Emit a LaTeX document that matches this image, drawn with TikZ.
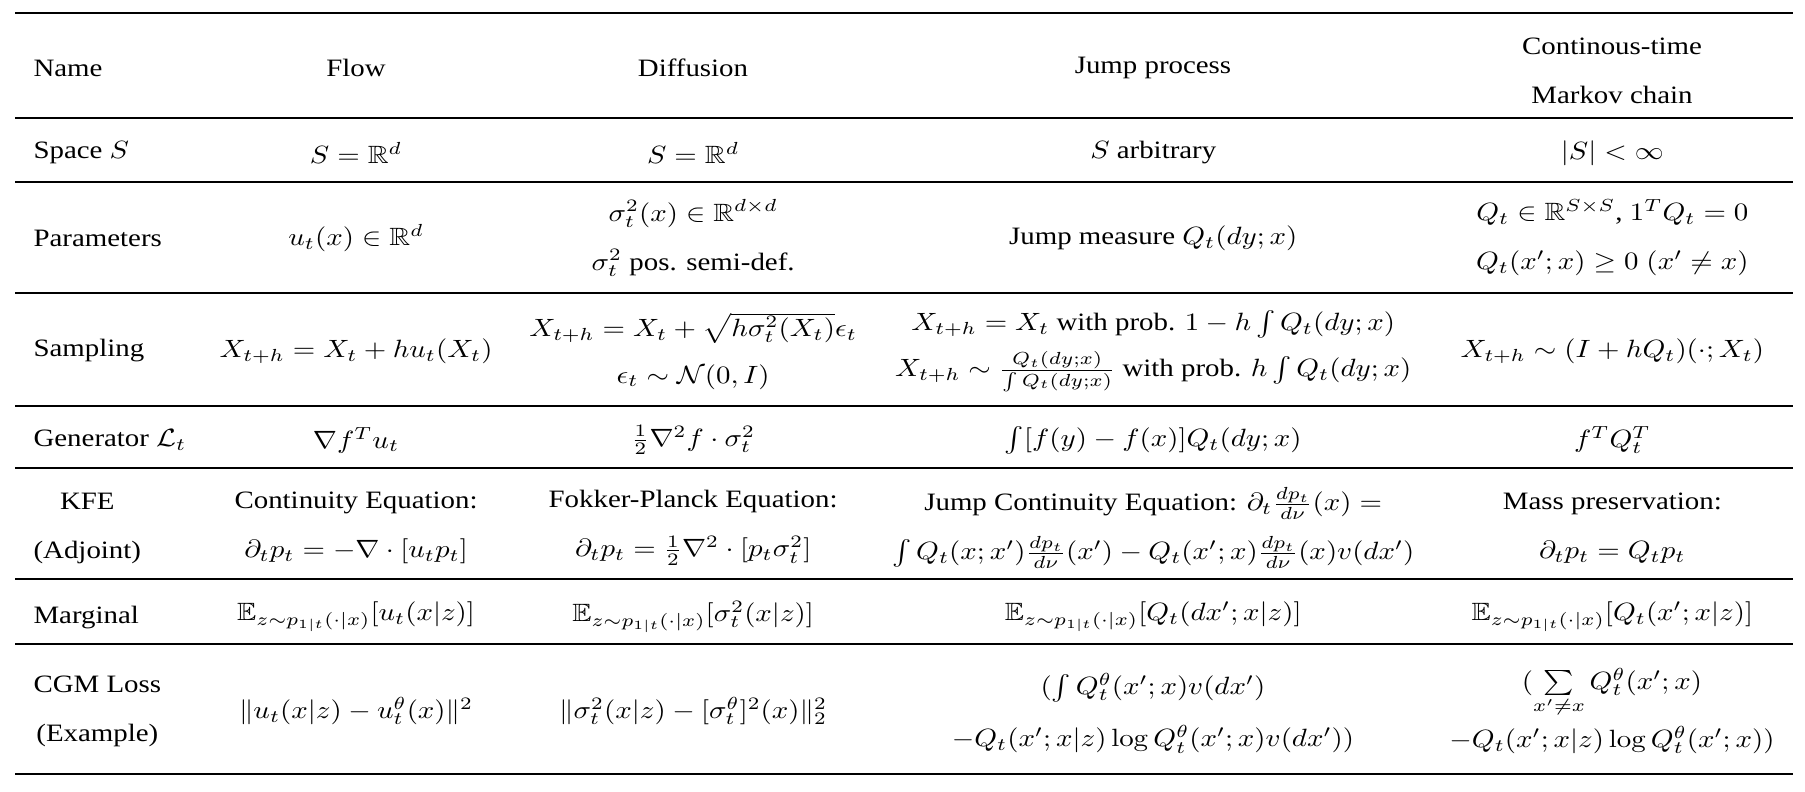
\documentclass[tikz,border=0pt]{standalone}
\usepackage{amsmath,amssymb}
\usepackage[no-math]{fontspec}
\setmainfont{Liberation Serif}

\begin{document}
\begin{tikzpicture}[x=0.3463pt,y=-0.4pt,xscale=1.155,
    cell/.style={transform shape,align=center,inner sep=0pt,font=\fontsize{10}{19.6}\selectfont},
    row head/.style={cell,anchor=west},
    heavy rule/.style={line width=0.8pt},
    head rule/.style={line width=0.65pt},
    light rule/.style={line width=0.45pt}]
    \useasboundingbox (0,0) rectangle (1805,791);

    \node[row head] (name) at (33,68) {Name};
    \node[cell] (flow) at (356,68) {Flow};
    \node[cell] (diff) at (693,68) {Diffusion};
    \node[cell] (jump) at (1153,68) {Jump process};
    \node[cell] (ctmc) at (1612,71) {Continous-time\\Markov chain};

    \node[row head] (space) at (33,153) {Space $S$};
    \node[row head] (param) at (33,238) {Parameters};
    \node[row head] (sampl) at (33,351) {Sampling};
    \node[row head] (gen) at (33,440) {Generator $\mathcal{L}_t$};
    \node[row head] (kfe) at (33,528) {KFE\\(Adjoint)};
    \node[row head] (marg) at (33,617) {Marginal};
    \node[row head] (loss) at (33,711) {CGM Loss\\(Example)};

    \node[cell] (flowS) at (flow |- space) {$S=\mathbb{R}^d$};
    \node[cell] (diffS) at (diff |- space) {$S=\mathbb{R}^d$};
    \node[cell] (jumpS) at (jump |- space) {$S$ arbitrary};
    \node[cell] (ctmcS) at (ctmc |- space) {$|S|<\infty$};

    \node[cell] (flowP) at (flow |- param) {$u_t(x)\in\mathbb{R}^d$};
    \node[cell] (diffP) at (diff |- param) {$\sigma_t^2(x)\in\mathbb{R}^{d\times d}$\\$\sigma_t^2$ pos. semi-def.};
    \node[cell] (jumpP) at (jump |- param) {Jump measure $Q_t(dy;x)$};
    \node[cell] (ctmcP) at (ctmc |- param) {$Q_t\in\mathbb{R}^{S\times S}$, $1^TQ_t=0$\\$Q_t(x';x)\geq 0\;(x'\neq x)$};

    \node[cell] (flowX) at (flow |- sampl) {$X_{t+h}=X_t+hu_t(X_t)$};
    \node[cell] (diffX) at (diff |- sampl) {$X_{t+h}=X_t+\sqrt{h\sigma_t^2(X_t)}\epsilon_t$\\[-1pt]$\epsilon_t\sim\mathcal{N}(0,I)$};
    \node[cell] (jumpX) at (jump |- sampl) {$X_{t+h}=X_t$ with prob. $1-h\int Q_t(dy;x)$\\[-1pt]$X_{t+h}\sim\frac{Q_t(dy;x)}{\int Q_t(dy;x)}$ with prob. $h\int Q_t(dy;x)$};
    \node[cell] (ctmcX) at (ctmc |- sampl) {$X_{t+h}\sim(I+hQ_t)(\cdot;X_t)$};

    \node[cell] (flowL) at (flow |- gen) {$\nabla f^Tu_t$};
    \node[cell] (diffL) at (diff |- gen) {$\frac{1}{2}\nabla^2f\cdot\sigma_t^2$};
    \node[cell] (jumpL) at (jump |- gen) {$\int[f(y)-f(x)]Q_t(dy;x)$};
    \node[cell] (ctmcL) at (ctmc |- gen) {$f^TQ_t^T$};

    \node[cell] (flowK) at (flow |- kfe) {Continuity Equation:\\$\partial_tp_t=-\nabla\cdot[u_tp_t]$};
    \node[cell] (diffK) at (diff |- kfe) {Fokker-Planck Equation:\\$\partial_tp_t=\frac{1}{2}\nabla^2\cdot[p_t\sigma_t^2]$};
    \node[cell] (jumpK) at (jump |- kfe) {Jump Continuity Equation: $\partial_t\frac{dp_t}{d\nu}(x)=$\\$\int Q_t(x;x')\frac{dp_t}{d\nu}(x')-Q_t(x';x)\frac{dp_t}{d\nu}(x)v(dx')$};
    \node[cell] (ctmcK) at (ctmc |- kfe) {Mass preservation:\\$\partial_tp_t=Q_tp_t$};

    \node[cell] (flowM) at (flow |- marg) {$\mathbb{E}_{z\sim p_{1|t}(\cdot|x)}[u_t(x|z)]$};
    \node[cell] (diffM) at (diff |- marg) {$\mathbb{E}_{z\sim p_{1|t}(\cdot|x)}[\sigma_t^2(x|z)]$};
    \node[cell] (jumpM) at (jump |- marg) {$\mathbb{E}_{z\sim p_{1|t}(\cdot|x)}[Q_t(dx';x|z)]$};
    \node[cell] (ctmcM) at (ctmc |- marg) {$\mathbb{E}_{z\sim p_{1|t}(\cdot|x)}[Q_t(x';x|z)]$};

    \node[cell] (flowC) at (flow |- loss) {$\|u_t(x|z)-u_t^\theta(x)\|^2$};
    \node[cell] (diffC) at (diff |- loss) {$\|\sigma_t^2(x|z)-[\sigma_t^\theta]^2(x)\|_2^2$};
    \node[cell] (jumpC) at (1153,713) {$(\int Q_t^\theta(x';x)v(dx')$\\[1.5pt]$-Q_t(x';x|z)\log Q_t^\theta(x';x)v(dx'))$};
    \node[cell] (ctmcC) at (1612,711) {$(\sum\limits_{x'\neq x}Q_t^\theta(x';x)$\\[2.5pt]$-Q_t(x';x|z)\log Q_t^\theta(x';x))$};

    \draw[heavy rule] (15,12.7) -- (1793,12.7);
    \draw[head rule] (15,118) -- (1793,118);
    \draw[light rule] (15,182) -- (1793,182);
    \draw[light rule] (15,293) -- (1793,293);
    \draw[light rule] (15,406) -- (1793,406);
    \draw[light rule] (15,468) -- (1793,468);
    \draw[light rule] (15,579) -- (1793,579);
    \draw[light rule] (15,644) -- (1793,644);
    \draw[heavy rule] (15,774) -- (1793,774);
\end{tikzpicture}
\end{document}
